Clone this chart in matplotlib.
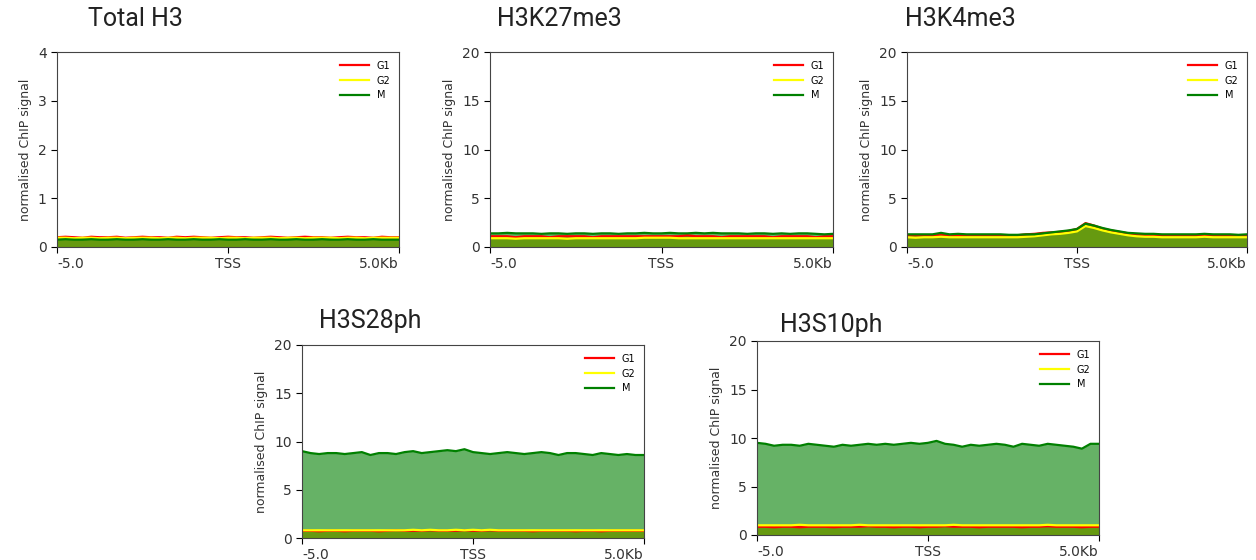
import numpy as np
import matplotlib
matplotlib.use("Agg")
import matplotlib.pyplot as plt

# === Data: profile signal around TSS (-5kb .. +5kb, 41 bins) ===
bins = np.linspace(-5, 5, 41)

titles = ["Total H3", "H3K27me3", "H3K4me3", "H3S28ph", "H3S10ph"]
ymax = [4, 20, 20, 20, 20]

h3_g1 = [0.20, 0.21, 0.20, 0.19, 0.21, 0.20, 0.20, 0.21, 0.19, 0.20, 0.21, 0.20, 0.20, 0.19,
         0.21, 0.20, 0.21, 0.20, 0.19, 0.20, 0.21, 0.20, 0.20, 0.19, 0.20, 0.21, 0.20, 0.19,
         0.20, 0.21, 0.20, 0.20, 0.19, 0.20, 0.21, 0.20, 0.20, 0.19, 0.21, 0.20, 0.20]
h3_g2 = [0.19, 0.19, 0.18, 0.19, 0.19, 0.18, 0.19, 0.19, 0.18, 0.19, 0.19, 0.19, 0.18, 0.19,
         0.19, 0.18, 0.19, 0.19, 0.19, 0.18, 0.19, 0.19, 0.18, 0.19, 0.19, 0.19, 0.18, 0.19,
         0.19, 0.18, 0.19, 0.19, 0.19, 0.18, 0.19, 0.19, 0.18, 0.19, 0.19, 0.19, 0.19]
h3_m = [0.15, 0.16, 0.15, 0.15, 0.16, 0.15, 0.15, 0.16, 0.15, 0.15, 0.16, 0.15, 0.15, 0.16,
        0.15, 0.15, 0.16, 0.15, 0.15, 0.16, 0.15, 0.15, 0.16, 0.15, 0.15, 0.16, 0.15, 0.15,
        0.16, 0.15, 0.15, 0.16, 0.15, 0.15, 0.16, 0.15, 0.15, 0.16, 0.15, 0.15, 0.15]

k27_g1 = [1.1, 1.1, 1.1, 1.0, 1.1, 1.1, 1.1, 1.0, 1.1, 1.1, 1.1, 1.1, 1.0, 1.1, 1.1, 1.1,
          1.1, 1.1, 1.1, 1.1, 1.1, 1.1, 1.1, 1.2, 1.1, 1.1, 1.1, 1.0, 1.1, 1.1, 1.1, 1.1,
          1.1, 1.0, 1.1, 1.1, 1.1, 1.1, 1.0, 1.1, 1.1]
k27_g2 = [0.9, 0.9, 0.9, 0.85, 0.9, 0.9, 0.9, 0.9, 0.9, 0.85, 0.9, 0.9, 0.9, 0.9, 0.9, 0.9,
          0.9, 0.9, 0.95, 0.95, 0.95, 0.95, 0.9, 0.9, 0.9, 0.9, 0.9, 0.9, 0.9, 0.9, 0.9, 0.9,
          0.9, 0.9, 0.9, 0.9, 0.9, 0.9, 0.9, 0.9, 0.9]
k27_m = [1.4, 1.4, 1.45, 1.4, 1.4, 1.4, 1.35, 1.4, 1.4, 1.35, 1.4, 1.4, 1.35, 1.4, 1.4, 1.35,
         1.4, 1.4, 1.45, 1.4, 1.4, 1.45, 1.4, 1.4, 1.45, 1.4, 1.45, 1.4, 1.4, 1.4, 1.35, 1.4,
         1.4, 1.35, 1.4, 1.35, 1.4, 1.4, 1.35, 1.3, 1.35]

k4_g1 = [1.2, 1.2, 1.2, 1.1, 1.3, 1.1, 1.15, 1.2, 1.2, 1.2, 1.2, 1.2, 1.15, 1.2, 1.3, 1.35,
         1.45, 1.5, 1.55, 1.65, 1.85, 2.45, 2.2, 1.9, 1.7, 1.55, 1.4, 1.3, 1.25, 1.25, 1.2, 1.2,
         1.2, 1.2, 1.15, 1.25, 1.2, 1.15, 1.2, 1.2, 1.2]
k4_g2 = [1.0, 0.95, 1.0, 1.0, 1.05, 1.0, 1.0, 1.0, 1.0, 1.0, 1.0, 1.0, 1.0, 1.0, 1.05, 1.1,
         1.2, 1.3, 1.35, 1.45, 1.6, 2.15, 1.95, 1.7, 1.5, 1.35, 1.2, 1.1, 1.05, 1.05, 1.0, 1.0,
         1.0, 1.0, 1.0, 1.05, 1.0, 1.0, 1.0, 1.0, 1.0]
k4_m = [1.3, 1.3, 1.3, 1.3, 1.45, 1.3, 1.35, 1.3, 1.3, 1.3, 1.3, 1.3, 1.25, 1.25, 1.3, 1.3,
        1.4, 1.5, 1.6, 1.7, 1.85, 2.4, 2.2, 1.95, 1.75, 1.6, 1.45, 1.4, 1.35, 1.35, 1.3, 1.3,
        1.3, 1.3, 1.3, 1.35, 1.3, 1.3, 1.3, 1.25, 1.3]

s28_g1 = [0.75, 0.75, 0.7, 0.75, 0.75, 0.7, 0.75, 0.75, 0.75, 0.7, 0.75, 0.8, 0.75, 0.75, 0.75,
          0.8, 0.75, 0.75, 0.75, 0.8, 0.75, 0.75, 0.8, 0.75, 0.75, 0.75, 0.75, 0.7, 0.75, 0.75,
          0.75, 0.75, 0.7, 0.75, 0.75, 0.7, 0.75, 0.75, 0.75, 0.75, 0.75]
s28_g2 = [0.8, 0.8, 0.8, 0.8, 0.8, 0.8, 0.8, 0.8, 0.8, 0.8, 0.8, 0.8, 0.8, 0.85, 0.8, 0.85,
          0.8, 0.8, 0.85, 0.8, 0.85, 0.8, 0.85, 0.8, 0.8, 0.8, 0.8, 0.8, 0.8, 0.8, 0.8, 0.8,
          0.8, 0.8, 0.8, 0.8, 0.8, 0.8, 0.8, 0.8, 0.8]
s28_m = [9.0, 8.8, 8.7, 8.8, 8.8, 8.7, 8.8, 8.9, 8.6, 8.8, 8.8, 8.7, 8.9, 9.0, 8.8, 8.9,
         9.0, 9.1, 9.0, 9.2, 8.9, 8.8, 8.7, 8.8, 8.9, 8.8, 8.7, 8.8, 8.9, 8.8, 8.6, 8.8,
         8.8, 8.7, 8.6, 8.8, 8.7, 8.6, 8.7, 8.6, 8.6]

s10_g1 = [0.85, 0.85, 0.8, 0.85, 0.85, 0.8, 0.85, 0.85, 0.85, 0.8, 0.85, 0.85, 0.85, 0.9, 0.85,
          0.85, 0.8, 0.85, 0.85, 0.8, 0.85, 0.85, 0.9, 0.85, 0.85, 0.85, 0.8, 0.85, 0.85, 0.85,
          0.85, 0.8, 0.85, 0.85, 0.9, 0.85, 0.85, 0.85, 0.8, 0.85, 0.85]
s10_g2 = [1.0, 1.0, 1.0, 1.0, 1.0, 1.05, 1.0, 1.0, 1.0, 1.0, 1.0, 1.0, 1.05, 1.0, 1.0, 1.0,
          1.0, 1.0, 1.0, 1.0, 1.0, 1.0, 1.0, 1.05, 1.0, 1.0, 1.0, 1.0, 1.0, 1.0, 1.0, 1.0,
          1.0, 1.0, 1.05, 1.0, 1.0, 1.0, 1.0, 1.0, 1.0]
s10_m = [9.5, 9.4, 9.2, 9.3, 9.3, 9.2, 9.4, 9.3, 9.2, 9.1, 9.3, 9.2, 9.3, 9.4, 9.3, 9.4,
         9.3, 9.4, 9.5, 9.4, 9.5, 9.7, 9.4, 9.3, 9.1, 9.3, 9.2, 9.3, 9.4, 9.3, 9.1, 9.4,
         9.3, 9.2, 9.4, 9.3, 9.2, 9.1, 8.9, 9.4, 9.4]

series = [
    (h3_g1, h3_g2, h3_m),
    (k27_g1, k27_g2, k27_m),
    (k4_g1, k4_g2, k4_m),
    (s28_g1, s28_g2, s28_m),
    (s10_g1, s10_g2, s10_m),
]
labels = ["G1", "G2", "M"]
colors = ["red", "yellow", "green"]

# === Layout in pixels: (left, right, top, bottom) of each axes, title anchor ===
W, H = 1256, 560
boxes = [(57, 399, 52, 247), (490, 833, 52, 247), (907, 1247, 52, 247),
         (302, 644, 345, 538), (757, 1099, 341, 535)]
title_pos = [(88, 19), (497, 19), (905, 19), (319, 321), (780, 325)]

fig = plt.figure(figsize=(W / 100, H / 100), dpi=100)

for i, (l, r, t, b) in enumerate(boxes):
    ax = fig.add_axes([l / W, 1 - b / H, (r - l) / W, (b - t) / H])
    for vals, lab, c in zip(series[i], labels, colors):
        ax.plot(bins, vals, color=c, lw=1.6, label=lab)
        ax.fill_between(bins, vals, 0, color=c, alpha=0.6, lw=0)
    ax.set_xlim(-5, 5)
    ax.set_ylim(0, ymax[i])
    ax.set_xticks([-5, 0, 5])
    xl = ax.set_xticklabels(["-5.0", "TSS", "5.0Kb"], fontsize=10, color="#333333")
    xl[0].set_ha("left")
    xl[-1].set_ha("right")
    ax.tick_params(axis="y", labelsize=10, length=4, labelcolor="#333333")
    ax.tick_params(axis="x", length=4)
    ax.set_ylabel("normalised ChIP signal", fontsize=9, color="#333333")
    for sp in ax.spines.values():
        sp.set_color("#444444")
    ax.legend(loc="upper right", frameon=False, fontsize=7, handlelength=3)
    tx, ty = title_pos[i]
    fig.text(tx / W, 1 - ty / H, titles[i], fontsize=18, family="Roboto",
             ha="left", va="center", color="#222222")

fig.savefig("out.png", dpi=100)
